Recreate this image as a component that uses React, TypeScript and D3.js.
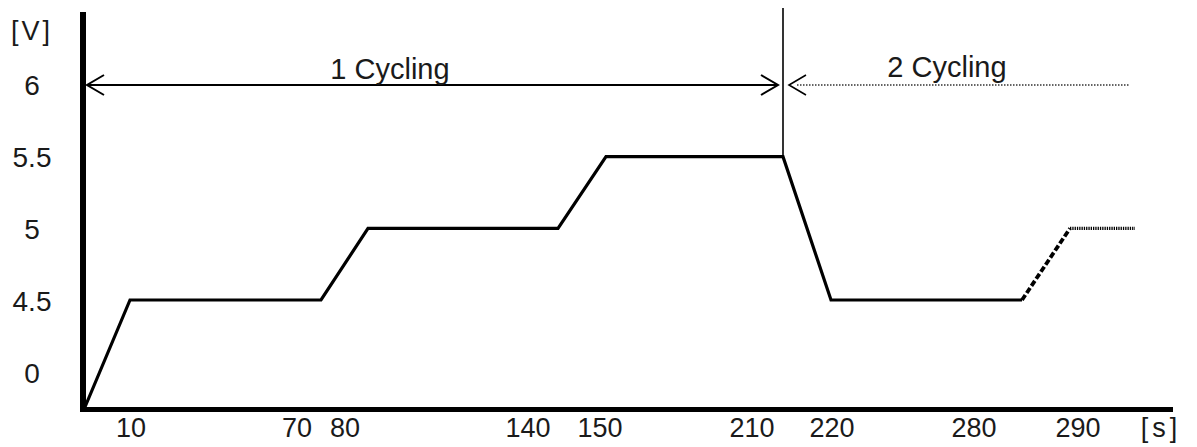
import React from 'react';
import * as d3 from 'd3';

// ---- data ----
const times = [0, 10, 70, 80, 140, 150, 210, 220, 280];
const volts = [0, 4.5, 4.5, 5, 5, 5.5, 5.5, 4.5, 4.5];
const rampTimes = [280, 290];
const rampVolts = [4.5, 5];
const tailTimes = [290, 300];
const tailVolts = [5, 5];
const xTicks = [10, 70, 80, 140, 150, 210, 220, 280, 290];
const xTickLabels = ['10', '70', '80', '140', '150', '210', '220', '280', '290'];
const yTickLabels = ['0', '4.5', '5', '5.5', '6'];
const cycleLabels = ['1 Cycling', '2 Cycling'];
const cycleStart = [0, 210];
const cycleEnd = [210, 299];
const cycleVolt = 6;

// ---- layout ----
const W = 1197;
const H = 447;
const xBreaks = [0, 10, 70, 80, 140, 150, 210, 220, 280, 290, 300];
const xStops = [85, 130, 321, 368, 558, 606, 783, 831, 1022, 1070, 1135];
const xLabelShift = [1, -24, -23, -30, -6, -31, 1, -48, 8];
const axisX = 83;
const axisY = 409.5;
const font = "'Liberation Sans', Arial, sans-serif";
const textFill = '#1a1a1a';

export default function App() {
  const x = d3.scaleLinear().domain(xBreaks).range(xStops);
  const y = d3.scaleLinear().domain([0, 4.5, 6]).range([407, 300, 85]);
  const yLab = d3.scalePoint<string>().domain(yTickLabels).range([373, 85]);
  const mk = (ts: number[], vs: number[]) =>
    d3.line<number>().x((t) => x(t)).y((_, i) => y(vs[i]))(ts) || '';

  const mainPath = mk(times, volts);
  const rampPath = mk(rampTimes, rampVolts);
  const tailPath = mk(tailTimes, tailVolts);
  const ay = y(cycleVolt);

  const chevron = (tipX: number, dir: number) =>
    `M${tipX + dir * 17},${ay - 10}L${tipX},${ay}L${tipX + dir * 17},${ay + 10}`;

  return (
    <svg
      width={W}
      height={H}
      style={{ position: 'absolute', left: 0, top: 0, background: '#fff' }}
      fontFamily={font}
    >
      {/* axes */}
      <line x1={axisX} x2={axisX} y1={12} y2={412} stroke="#000" strokeWidth={6} />
      <line x1={80} x2={1173} y1={axisY} y2={axisY} stroke="#000" strokeWidth={5} />

      {/* y labels */}
      <text x={32} y={31} fontSize={27} textAnchor="middle" dy="0.35em" fill={textFill} letterSpacing={3}>
        [V]
      </text>
      {yTickLabels.map((l) => (
        <text key={l} x={32} y={yLab(l)} dy="0.35em" fontSize={28} textAnchor="middle" fill={textFill}>
          {l}
        </text>
      ))}

      {/* x labels */}
      {xTicks.map((t, i) => (
        <text key={t} x={x(t) + xLabelShift[i]} y={437} fontSize={27} textAnchor="middle" fill={textFill}>
          {xTickLabels[i]}
        </text>
      ))}
      <text x={1161} y={437} fontSize={27} textAnchor="middle" fill={textFill} letterSpacing={4}>
        [s]
      </text>

      {/* separator */}
      <line x1={x(210)} x2={x(210)} y1={8} y2={y(5.5)} stroke="#000" strokeWidth={1.6} />

      {/* cycle 1 arrow */}
      <line x1={x(cycleStart[0]) + 2} x2={x(cycleEnd[0]) - 5} y1={ay} y2={ay} stroke="#000" strokeWidth={2} />
      <path d={chevron(x(cycleStart[0]) + 2, 1)} fill="none" stroke="#000" strokeWidth={2} />
      <path d={chevron(x(cycleEnd[0]) - 5, -1)} fill="none" stroke="#000" strokeWidth={2} />
      <text x={390} y={79} fontSize={29} textAnchor="middle" fill={textFill}>
        {cycleLabels[0]}
      </text>

      {/* cycle 2 arrow */}
      <line
        x1={x(cycleStart[1]) + 14}
        x2={x(cycleEnd[1])}
        y1={ay}
        y2={ay}
        stroke="#333"
        strokeWidth={1.5}
        strokeDasharray="1.5,1.5"
      />
      <path d={chevron(x(cycleStart[1]) + 6, 1)} fill="none" stroke="#000" strokeWidth={1.6} />
      <text x={947} y={77} fontSize={29} textAnchor="middle" fill={textFill}>
        {cycleLabels[1]}
      </text>

      {/* curve */}
      <path d={mainPath} fill="none" stroke="#000" strokeWidth={3.2} strokeLinejoin="miter" />
      <path d={rampPath} fill="none" stroke="#000" strokeWidth={3.8} strokeDasharray="6,2.5" />
      <path d={tailPath} fill="none" stroke="#000" strokeWidth={3.2} strokeDasharray="1.3,1" />
    </svg>
  );
}
